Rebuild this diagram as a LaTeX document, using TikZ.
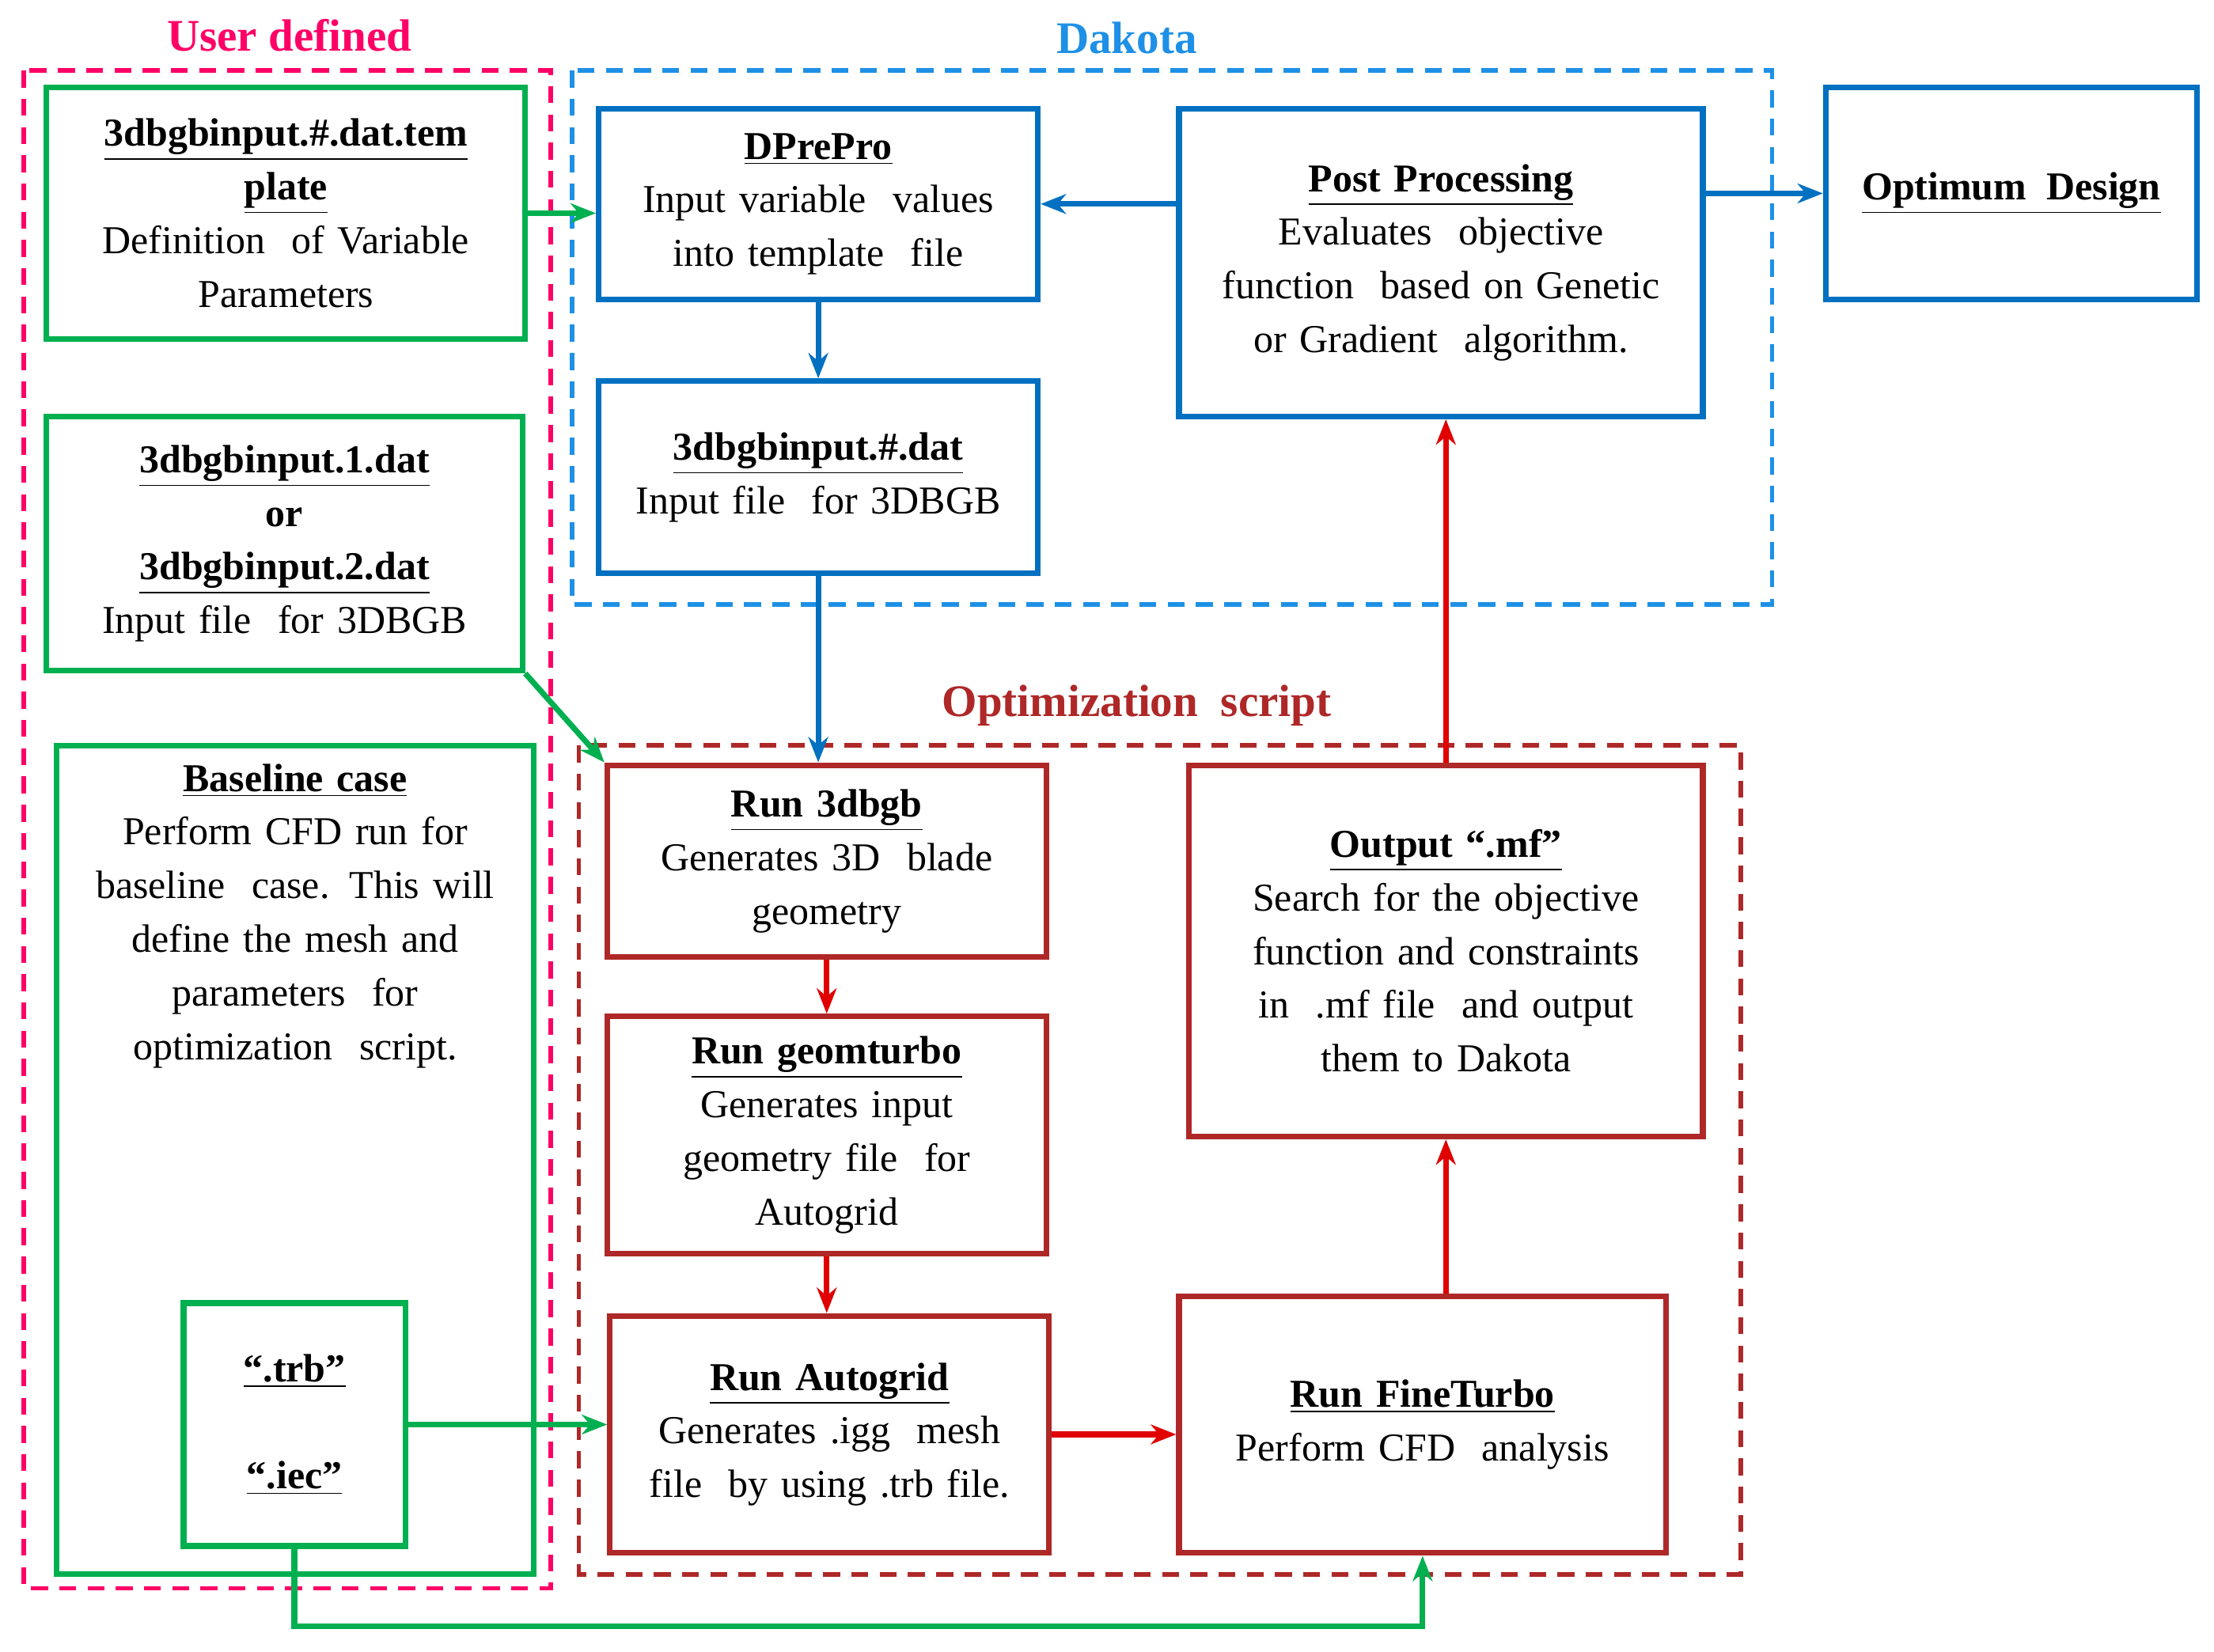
\documentclass[tikz,border=0pt]{standalone}
\usepackage{fontspec}
\setmainfont{Liberation Serif}
\usetikzlibrary{arrows.meta}
\definecolor{ugreen}{RGB}{0,176,80}
\definecolor{ublue}{RGB}{0,112,192}
\definecolor{dblue}{RGB}{30,144,230}
\definecolor{bred}{RGB}{175,40,40}
\definecolor{ared}{RGB}{225,0,0}
\definecolor{upink}{RGB}{255,0,102}
\newcommand{\hd}[1]{\textbf{\underline{#1}}}
\tikzset{
  box/.style={draw,line width=2pt,inner sep=2pt,align=center,
    font=\fontsize{14}{19}\selectfont},
  gbox/.style={box,draw=ugreen},
  bbox/.style={box,draw=ublue},
  rbox/.style={box,draw=bred},
  region/.style={dashed,line width=1.6pt,dash pattern=on 6pt off 4pt},
  rtitle/.style={font=\fontsize{16}{19}\selectfont\bfseries},
  garr/.style={draw=ugreen,line width=2pt,-{Stealth[length=9pt,width=7pt]}},
  barr/.style={draw=ublue,line width=2pt,-{Stealth[length=9pt,width=7pt]}},
  rarr/.style={draw=ared,line width=2pt,-{Stealth[length=9pt,width=7pt]}},
}
\begin{document}
\begin{tikzpicture}[x=0.5pt,y=-0.5pt]
\useasboundingbox (0,0) rectangle (1568,1170);
% regions
\draw[region,draw=upink] (17,50) rectangle (390,1125);
\draw[region,draw=dblue] (405,50) rectangle (1255,428);
\draw[region,draw=bred] (410,528) rectangle (1233,1115);
\node[rtitle,text=upink] (tuser) at (205,25) {User defined};
\node[rtitle,text=dblue] (tdakota) at (798,27) {Dakota};
\node[rtitle,text=bred] (topt) at (805,500) {Optimization\ \ script};
% user defined
\node[gbox,minimum width=169.5pt,minimum height=89pt,text width=160pt] (template) at (202.5,151)
  {\hd{3dbgbinput.\#.dat.tem}\\\hd{plate}\\Definition\ \ of Variable\\Parameters};
\node[gbox,minimum width=168.5pt,minimum height=90pt,text width=160pt] (datone) at (201.5,385)
  {\hd{3dbgbinput.1.dat}\\\textbf{or}\\\hd{3dbgbinput.2.dat}\\Input file\ \ for 3DBGB};
\node[gbox,minimum width=169pt,minimum height=293.5pt] (baseline) at (209,821.5) {};
\node[box,draw=none,anchor=north,text width=150pt] (basetext) at (209,535)
  {\hd{Baseline case}\\Perform CFD run for\\baseline\ \ case. This will\\define the mesh and\\parameters\ \ for\\optimization\ \ script.};
\node[gbox,minimum width=78.5pt,minimum height=86pt] (trb) at (208.5,1009)
  {\hd{``.trb''}\\[19pt]\hd{``.iec''}};
% dakota
\node[bbox,minimum width=155.5pt,minimum height=67.5pt,text width=150pt] (dprepro) at (579.5,144.5)
  {\hd{DPrePro}\\Input variable\ \ values\\into template\ \ file};
\node[bbox,minimum width=155.5pt,minimum height=68pt,text width=150pt] (datnum) at (579.5,338)
  {\hd{3dbgbinput.\#.dat}\\Input file\ \ for 3DBGB};
\node[bbox,minimum width=185.5pt,minimum height=109pt,text width=178pt] (post) at (1020.5,186)
  {\hd{Post Processing}\\Evaluates\ \ objective\\function\ \ based on Genetic\\or Gradient\ \ algorithm.};
\node[bbox,minimum width=131.5pt,minimum height=75pt] (optimum) at (1424.5,137)
  {\hd{Optimum\ \ Design}};
% optimization script
\node[rbox,minimum width=155.5pt,minimum height=68pt,text width=150pt] (rundbgb) at (585.5,610)
  {\hd{Run 3dbgb}\\Generates 3D\ \ blade\\geometry};
\node[rbox,minimum width=155.5pt,minimum height=84pt,text width=150pt] (geomturbo) at (585.5,804)
  {\hd{Run geomturbo}\\Generates input\\geometry file\ \ for\\Autogrid};
\node[rbox,minimum width=155.5pt,minimum height=84pt,text width=150pt] (autogrid) at (587.5,1016)
  {\hd{Run Autogrid}\\Generates .igg\ \ mesh\\file\ \ by using .trb file.};
\node[rbox,minimum width=172.5pt,minimum height=91pt,text width=165pt] (fineturbo) at (1007.5,1009)
  {\hd{Run FineTurbo}\\Perform CFD\ \ analysis};
\node[rbox,minimum width=182pt,minimum height=131.5pt,text width=175pt] (output) at (1024,673.5)
  {\hd{Output ``.mf''}\\Search for the objective\\function and constraints\\in\ \ .mf file\ \ and output\\them to Dakota};
% connectors
\draw[garr] (template.east) -- (template.east -| dprepro.west);
\draw[barr] (post.west |- dprepro.east) -- (dprepro.east);
\draw[barr] (post.east |- optimum.west) -- (optimum.west);
\draw[barr] (dprepro.south) -- (datnum.north);
\draw[barr] (datnum.south) -- (datnum.south |- rundbgb.north);
\draw[garr] (datone.south east) -- (rundbgb.north west);
\draw[rarr] (rundbgb.south) -- (geomturbo.north);
\draw[rarr] (geomturbo.south) -- (geomturbo.south |- autogrid.north);
\draw[rarr] (autogrid.east) -- (autogrid.east -| fineturbo.west);
\draw[rarr] (output.south |- fineturbo.north) -- (output.south);
\draw[rarr] (output.north) -- (output.north |- post.south);
\draw[garr] (trb.east) -- (trb.east -| autogrid.west);
\draw[garr] (trb.south) -- ++(0,55) -| (fineturbo.south);
\end{tikzpicture}
\end{document}
